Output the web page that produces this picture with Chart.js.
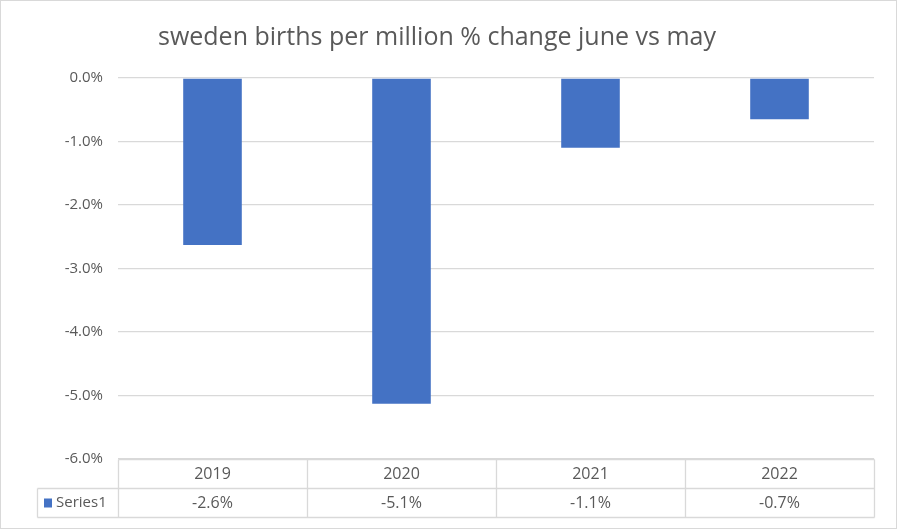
<!DOCTYPE html>
<html>
<head>
<meta charset="utf-8">
<script src="https://cdn.jsdelivr.net/npm/chart.js@4"></script>
<style>
  html, body { margin: 0; padding: 0; background: #fff; }
  #wrap { width: 897px; height: 529px; }
</style>
</head>
<body>
<div id="wrap"><canvas id="myChart" width="897" height="529"></canvas></div>
<script>
// data
const years = ['2019', '2020', '2021', '2022'];
const changePct = [-2.63, -5.13, -1.10, -0.65];
const seriesName = 'Series1';
const yTicks = { min: -6, max: 0, step: 1 };

const textColor = '#595959';
const gridColor = '#d9d9d9';
const barColor = '#4472c4';
const fontFamily = "'Open Sans', 'Liberation Sans', sans-serif";

// outer border + white background
const frame = {
    id: 'frame',
    beforeDraw(chart) {
        const ctx = chart.ctx;
        ctx.save();
        ctx.fillStyle = '#fff';
        ctx.fillRect(0, 0, chart.width, chart.height);
        ctx.strokeStyle = gridColor;
        ctx.lineWidth = 1;
        ctx.strokeRect(0.5, 0.5, chart.width - 1, chart.height - 1);
        ctx.restore();
    }
};

// excel style data table under the plot
const dataTable = {
    id: 'dataTable',
    afterDraw(chart) {
        const ctx = chart.ctx;
        const area = chart.chartArea;
        const x = chart.scales.x;
        const top = Math.round(area.bottom) + 0.5;
        const rowH = 29;
        const left = Math.round(area.left) + 0.5;
        const right = Math.round(area.right) + 0.5;
        const legendLeft = 37.5;
        const colW = (area.right - area.left) / years.length;

        ctx.save();
        ctx.strokeStyle = gridColor;
        ctx.lineWidth = 1.3;
        ctx.beginPath();
        // horizontal lines
        ctx.moveTo(left, top); ctx.lineTo(right, top);
        ctx.moveTo(legendLeft, top + rowH); ctx.lineTo(right, top + rowH);
        ctx.moveTo(legendLeft, top + 2 * rowH); ctx.lineTo(right, top + 2 * rowH);
        // vertical lines
        ctx.moveTo(legendLeft, top + rowH); ctx.lineTo(legendLeft, top + 2 * rowH);
        for (let i = 0; i <= years.length; i++) {
            const vx = Math.round(area.left + i * colW) + 0.5;
            ctx.moveTo(vx, top); ctx.lineTo(vx, top + 2 * rowH);
        }
        ctx.stroke();

        ctx.fillStyle = textColor;
        ctx.font = '16px ' + fontFamily;
        ctx.textAlign = 'center';
        ctx.textBaseline = 'middle';
        years.forEach((yr, i) => {
            const cx = x.getPixelForValue(i);
            ctx.fillText(yr, cx, top + rowH / 2);
            ctx.fillText(changePct[i].toFixed(1) + '%', cx, top + rowH * 1.5);
        });

        // legend key
        ctx.fillStyle = barColor;
        ctx.fillRect(44, top + rowH + 10, 8, 9);
        ctx.fillStyle = textColor;
        ctx.textAlign = 'left';
        ctx.font = '15px ' + fontFamily;
        ctx.fillText(seriesName, 56, top + rowH * 1.5);
        ctx.restore();
    }
};

const data = {
    labels: years,
    datasets: [{
        label: seriesName,
        data: changePct,
        backgroundColor: barColor,
        categoryPercentage: 1,
        barPercentage: 0.31
    }]
};

const config = {
    type: 'bar',
    data,
    options: {
        responsive: false,
        animation: false,
        layout: { padding: { left: 0, right: 23, bottom: 70 } },
        scales: {
            x: { display: false },
            y: {
                min: yTicks.min,
                max: yTicks.max,
                afterFit(scale) { scale.width = 118; },
                border: { display: false },
                grid: { color: gridColor, lineWidth: 1.3, drawTicks: false },
                ticks: {
                    stepSize: yTicks.step,
                    color: textColor,
                    padding: 15,
                    font: { family: fontFamily, size: 15 },
                    callback: v => v.toFixed(1) + '%'
                }
            }
        },
        plugins: {
            legend: { display: false },
            tooltip: { enabled: false },
            title: {
                display: true,
                text: 'sweden births per million % change june vs may',
                color: textColor,
                font: { family: fontFamily, size: 25, weight: 'normal' },
                padding: { top: 23, bottom: 25 }
            }
        }
    },
    plugins: [frame, dataTable]
};

const myChart = new Chart(document.getElementById('myChart'), config);
</script>
</body>
</html>
